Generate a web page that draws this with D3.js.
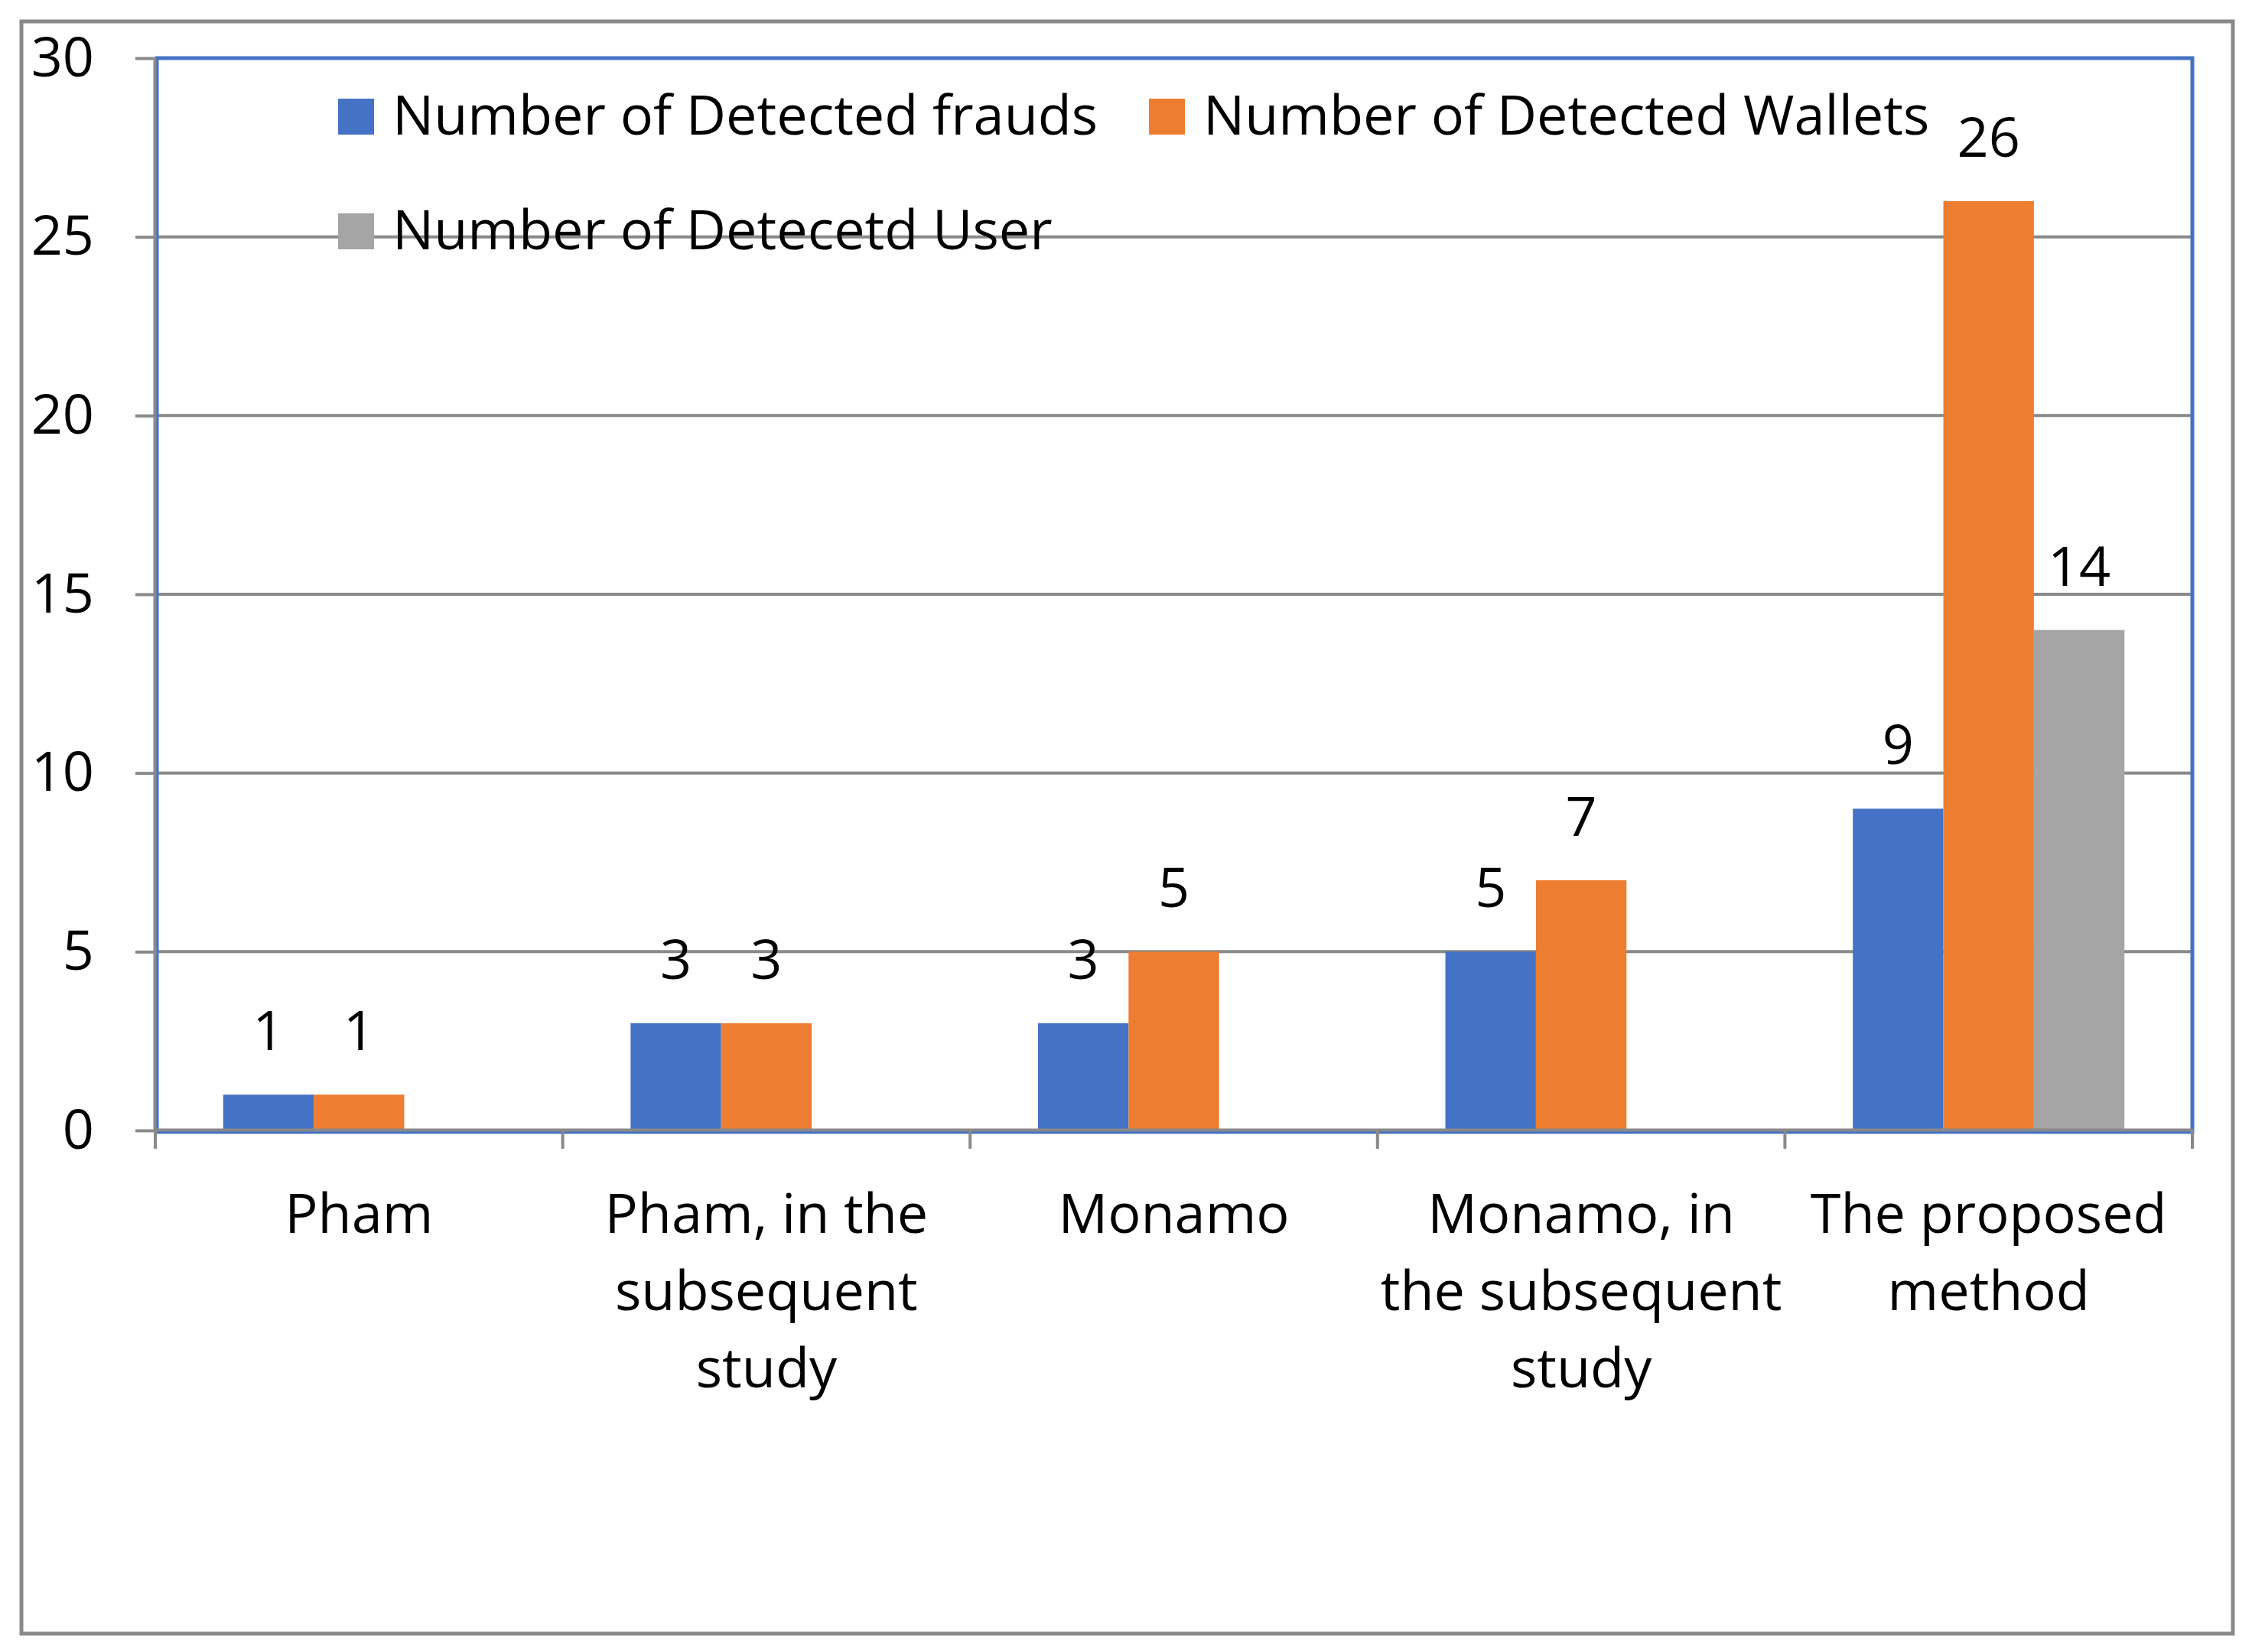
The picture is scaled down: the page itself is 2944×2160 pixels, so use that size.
<!DOCTYPE html>
<html>
<head>
<meta charset="utf-8">
<script src="https://cdn.jsdelivr.net/npm/d3@7"></script>
<style>
  body { margin: 0; background: #fff; }
  text { font-family: "Open Sans", sans-serif; }
</style>
</head>
<body>
<div id="chart"></div>
<script>
// data
const categories = ["Pham", "Pham, in the subsequent study", "Monamo", "Monamo, in the subsequent study", "The proposed method"];
const categoryLines = [["Pham"], ["Pham, in the", "subsequent", "study"], ["Monamo"], ["Monamo, in", "the subsequent", "study"], ["The proposed", "method"]];
const seriesNames = ["Number of Detected frauds", "Number of Detected Wallets", "Number of Detecetd User"];
const frauds = [1, 3, 3, 5, 9];
const wallets = [1, 3, 5, 7, 26];
const users = [null, null, null, null, 14];
const yTicks = [0, 5, 10, 15, 20, 25, 30];

const seriesValues = [frauds, wallets, users];
const colors = ["#4472C4", "#ED7D31", "#A5A5A5"];

let width = 2944;
let height = 2160;
let margin = { top: 76, bottom: 2160 - 1478, left: 203, right: 2944 - 2866 };
const fontSize = 72;
const gridColor = "#898989";

let svg = d3.select('#chart')
  .append('svg')
  .attr('width', width)
  .attr('height', height)
  .style('background', '#fff');

// outer chart border
svg.append('rect')
  .attr('x', 28).attr('y', 28)
  .attr('width', 2891).attr('height', 2108)
  .attr('fill', 'none')
  .attr('stroke', gridColor)
  .attr('stroke-width', 5);

// scales
let yScale = d3.scaleLinear()
  .domain([0, 30])
  .range([height - margin.bottom, margin.top]);

let x0Scale = d3.scaleBand()
  .domain(categories)
  .range([margin.left, width - margin.right])
  .padding(0);

let x1Scale = d3.scaleBand()
  .domain(seriesNames)
  .range([0, x0Scale.bandwidth()])
  .paddingInner(0)
  .paddingOuter(0.75);

// gridlines
svg.append('g')
  .selectAll('line')
  .data(yTicks.filter(d => d > 0))
  .enter()
  .append('line')
  .attr('x1', margin.left)
  .attr('x2', width - margin.right)
  .attr('y1', d => yScale(d))
  .attr('y2', d => yScale(d))
  .attr('stroke', gridColor)
  .attr('stroke-width', 4);

// plot area border
svg.append('rect')
  .attr('x', margin.left + 2)
  .attr('y', margin.top)
  .attr('width', width - margin.right - margin.left - 2)
  .attr('height', yScale(0) - margin.top + 2)
  .attr('fill', 'none')
  .attr('stroke', '#4472C4')
  .attr('stroke-width', 5);

// bars
seriesValues.forEach((vals, s) => {
  const g = svg.append('g');
  const pts = categories.map((c, i) => ({ c: c, v: vals[i] })).filter(d => d.v != null);
  g.selectAll('rect')
    .data(pts)
    .enter()
    .append('rect')
    .attr('x', d => x0Scale(d.c) + x1Scale(seriesNames[s]))
    .attr('y', d => yScale(d.v))
    .attr('width', x1Scale.bandwidth())
    .attr('height', d => yScale(0) - yScale(d.v))
    .attr('fill', colors[s]);
  g.selectAll('text')
    .data(pts)
    .enter()
    .append('text')
    .attr('x', d => x0Scale(d.c) + x1Scale(seriesNames[s]) + x1Scale.bandwidth() / 2)
    .attr('y', d => yScale(d.v) - 58)
    .attr('text-anchor', 'middle')
    .style('font-size', fontSize + 'px')
    .attr('fill', '#000')
    .text(d => d.v);
});

// y axis
let yAxis = svg.append('g')
  .attr('transform', `translate(${margin.left - 1}, 0)`)
  .call(d3.axisLeft(yScale).tickValues(yTicks).tickSize(25).tickSizeOuter(0).tickPadding(54));
yAxis.select('.domain').attr('stroke', gridColor).attr('stroke-width', 4);
yAxis.selectAll('.tick line').attr('stroke', gridColor).attr('stroke-width', 4);
yAxis.selectAll('.tick text')
  .style('font-size', fontSize + 'px')
  .style('font-family', '"Open Sans", sans-serif')
  .attr('fill', '#000');

// x axis
let xAxis = svg.append('g')
  .attr('transform', `translate(0, ${yScale(0) - 1})`)
  .call(d3.axisBottom(x0Scale).tickSize(0).tickSizeOuter(0).tickFormat(''));
xAxis.select('.domain').attr('stroke', gridColor).attr('stroke-width', 4);

// tick marks between categories
const bounds = categories.map(c => x0Scale(c)).concat([x0Scale.range()[1]]);
xAxis.selectAll('.bound')
  .data(bounds)
  .enter()
  .append('line')
  .attr('x1', d => d).attr('x2', d => d)
  .attr('y1', 0).attr('y2', 25)
  .attr('stroke', gridColor)
  .attr('stroke-width', 4);

// category labels
const catText = svg.append('g')
  .selectAll('text')
  .data(categories)
  .enter()
  .append('text')
  .attr('x', d => x0Scale(d) + x0Scale.bandwidth() / 2)
  .attr('y', 1612)
  .attr('text-anchor', 'middle')
  .style('font-size', fontSize + 'px')
  .attr('fill', '#000');
catText.each(function(d, i) {
  d3.select(this).selectAll('tspan')
    .data(categoryLines[i])
    .enter()
    .append('tspan')
    .attr('x', x0Scale(d) + x0Scale.bandwidth() / 2)
    .attr('dy', (l, j) => j === 0 ? 0 : 101)
    .text(l => l);
});

// legend
const legendPos = [[442, 176], [1502, 176], [442, 326]];
seriesNames.forEach((name, i) => {
  const lg = svg.append('g').attr('transform', `translate(${legendPos[i][0]}, ${legendPos[i][1]})`);
  lg.append('rect')
    .attr('x', 0).attr('y', -47)
    .attr('width', 47).attr('height', 47)
    .attr('fill', colors[i]);
  lg.append('text')
    .attr('x', 71).attr('y', 0)
    .style('font-size', fontSize + 'px')
    .attr('fill', '#000')
    .text(name);
});
</script>
</body>
</html>
